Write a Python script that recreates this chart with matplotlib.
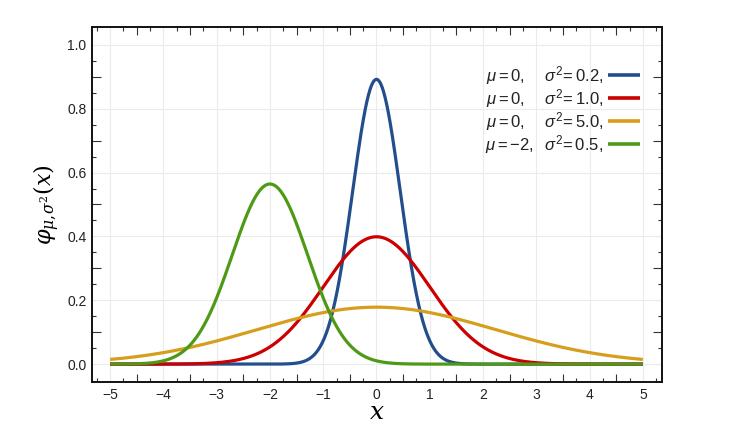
import numpy as np
import matplotlib
matplotlib.use("Agg")
import matplotlib.pyplot as plt

mus = [0, 0, 0, -2]
sigma2s = [0.2, 1.0, 5.0, 0.5]
colors = ["#234e8c", "#cc0000", "#d69e1c", "#4e9a16"]
labels = [r"$\mu=0,\hspace{1.25}\sigma^2\!=0.2,$",
          r"$\mu=0,\hspace{1.25}\sigma^2\!=1.0,$",
          r"$\mu=0,\hspace{1.25}\sigma^2\!=5.0,$",
          r"$\mu=-2,\hspace{0.6}\sigma^2\!=0.5,$"]
x_ticks = [-5, -4, -3, -2, -1, 0, 1, 2, 3, 4, 5]
y_ticks = [0.0, 0.2, 0.4, 0.6, 0.8, 1.0]

plt.rcParams['font.family'] = ['Liberation Sans', 'DejaVu Sans']
plt.rcParams['mathtext.fontset'] = 'custom'
plt.rcParams['mathtext.rm'] = 'Liberation Sans'
plt.rcParams['mathtext.it'] = 'Liberation Sans:italic'
plt.rcParams['mathtext.bf'] = 'Liberation Sans:bold'

fig = plt.figure(figsize=(7.4, 4.37), dpi=100)
ax = fig.add_axes([92/740, 1-382/437, 570/740, 355/437])

x = np.linspace(-5, 5, 1001)
handles = []
for mu, s2, c, lab in zip(mus, sigma2s, colors, labels):
    y = np.exp(-(x-mu)**2/(2*s2))/np.sqrt(2*np.pi*s2)
    h, = ax.plot(x, y, color=c, lw=2.3, solid_capstyle='butt', zorder=3, label=lab)
    handles.append(h)

ax.set_xlim(-5.34, 5.36)
ax.set_ylim(-0.056, 1.056)

# main ticks: labelled, with grid, no tick marks
ax.set_xticks(x_ticks)
ax.set_yticks(y_ticks)
ax.set_yticklabels([f"{v:.1f}" for v in y_ticks])
ax.grid(True, color="#ebebeb", lw=0.8, zorder=0)
ax.tick_params(which='major', length=0, labelsize=10, labelcolor="#222222")
ax.tick_params(axis='x', which='major', pad=4)
ax.tick_params(axis='y', which='major', pad=4)

# minor ticks at quarters / 0.05 steps (excluding labelled positions)
xq = [v/4 for v in range(-21, 22) if v % 2 != 0]
yq = [v*0.05 for v in range(1, 21) if v % 2 != 0]
ax.set_xticks(xq, minor=True)
ax.set_yticks(yq, minor=True)
ax.tick_params(which='minor', direction='in', length=3, width=0.8, color="#333333",
               top=True, bottom=True, left=True, right=True)

# longer ticks at half-integers / odd tenths
xh = [v/2 for v in range(-11, 12) if v % 2 != 0]
yh = [v*0.1 for v in range(1, 11) if v % 2 != 0]
for loc in ['bottom', 'top']:
    sx = ax.secondary_xaxis(loc)
    sx.set_xticks(xh)
    sx.set_xticklabels([])
    sx.tick_params(direction='in', length=5.5, width=0.8, color="#333333")
    sx.spines[:].set_visible(False)
for loc in ['left', 'right']:
    sy = ax.secondary_yaxis(loc)
    sy.set_yticks(yh)
    sy.set_yticklabels([])
    sy.tick_params(direction='in', length=6.5, width=0.8, color="#333333")
    sy.spines[:].set_visible(False)

for sp in ax.spines.values():
    sp.set_linewidth(1.4)
    sp.set_color("#111111")

ax.set_xlabel(r"$x$", fontsize=18, math_fontfamily='dejavuserif', labelpad=-1)
ax.set_ylabel(r"$\varphi_{\mu,\!\sigma^2}(x)$", fontsize=16, math_fontfamily='dejavuserif', labelpad=4)

leg = ax.legend(handles=handles, loc='upper right', bbox_to_anchor=(640/740, 1-64/437),
                bbox_transform=fig.transFigure, frameon=False, markerfirst=False,
                fontsize=12, handlelength=1.9, handletextpad=0.3, labelspacing=0.0,
                borderpad=0, borderaxespad=0)
for t in leg.get_texts():
    t.set_color("#222222")
for l in leg.get_lines():
    l.set_linewidth(2.6)

fig.savefig("out.png", dpi=100)
